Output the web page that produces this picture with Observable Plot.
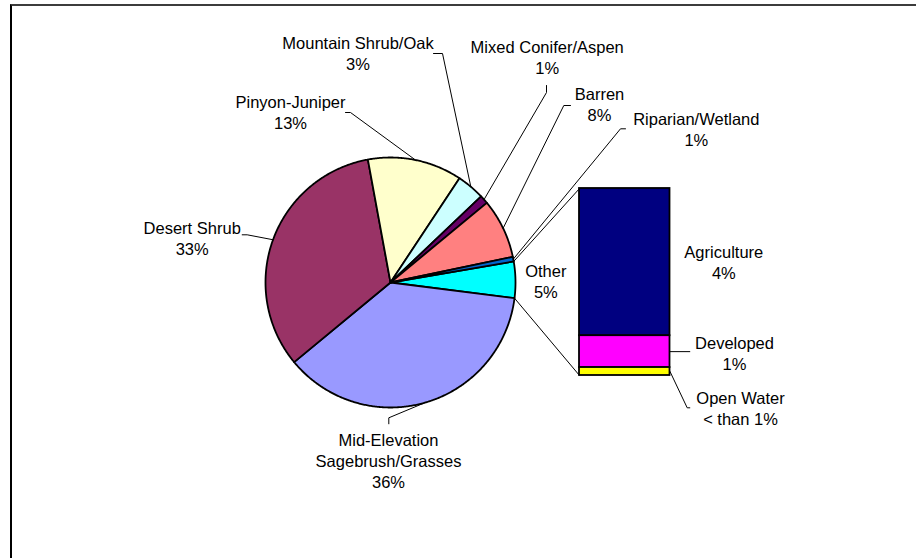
<!DOCTYPE html>
<html><head><meta charset="utf-8">
<script src="https://cdn.jsdelivr.net/npm/d3@7"></script>
<script src="https://cdn.jsdelivr.net/npm/@observablehq/plot@0.6"></script>
<style>
html,body{margin:0;padding:0;background:#fff;}
#wrap{position:relative;width:916px;height:558px;overflow:hidden;}
#frame{position:absolute;left:10px;top:4px;right:-10px;bottom:-10px;border-top:2px solid #3c3c3c;border-left:2px solid #000;pointer-events:none;}
svg{display:block;}
</style></head><body><div id="wrap"><div id="frame"></div></div>
<script>
// ---- data ----
const pieCategories = ["Other", "Mid-Elevation Sagebrush/Grasses", "Desert Shrub", "Pinyon-Juniper", "Mountain Shrub/Oak", "Mixed Conifer/Aspen", "Barren", "Riparian/Wetland"];
const pieValues = [4.7, 37.0, 33.1, 12.2, 3.6, 1.1, 7.7, 0.6];
const pieLabelNames = ["Other", "Mid-Elevation\nSagebrush/Grasses", "Desert Shrub", "Pinyon-Juniper", "Mountain Shrub/Oak", "Mixed Conifer/Aspen", "Barren", "Riparian/Wetland"];
const piePercentLabels = ["5%", "36%", "33%", "13%", "3%", "1%", "8%", "1%"];
const pieColors = ["#00FFFF", "#9999FF", "#993366", "#FFFFCC", "#CCFFFF", "#660066", "#FF8080", "#0066CC"];

const barCategories = ["Agriculture", "Developed", "Open Water"];
const barValues = [3.7, 0.8, 0.2];
const barPercentLabels = ["4%", "1%", "< than 1%"];
const barColors = ["#000080", "#FF00FF", "#FFFF00"];

// ---- layout ----
const W = 916, H = 558;
const cx = 390, cy = 282, R = 125, startDeg = 80.3;
const bar = {x0: 579, x1: 669.5, yTop: 188, yBot: 375};
const FS = 16.5, LS = 21;
const FONT = "'Liberation Sans', Arial, Helvetica, sans-serif";

// label placements (pixels): text center x, first baseline y, leader elbow points
const pieLabelLayout = {
  "Other": {tx: 545.3, ty: 276.7, path: null},
  "Mid-Elevation Sagebrush/Grasses": {tx: 388, ty: 445, path: [[388.3, 417.3], [388.3, 423.3]]},
  "Desert Shrub": {tx: 191.7, ty: 233, path: [[246.7, 234.3], [241.7, 234.3]]},
  "Pinyon-Juniper": {tx: 290, ty: 107.3, path: [[350, 112], [345, 112]]},
  "Mountain Shrub/Oak": {tx: 357.5, ty: 48, path: [[442, 53], [433, 53]]},
  "Mixed Conifer/Aspen": {tx: 546.7, ty: 52.5, path: [[546, 92], [546, 85]]},
  "Barren": {tx: 599, ty: 99, path: [[563.3, 105], [570, 105]]},
  "Riparian/Wetland": {tx: 695.8, ty: 124, path: [[620, 128.3], [625, 128.3]]}
};
const barLabelLayout = {
  "Agriculture": {tx: 723.3, ty: 257.3, path: null},
  "Developed": {tx: 734, ty: 348.3, path: [[689.3, null]]},
  "Open Water": {tx: 740, ty: 403.3, path: [[686.7, 407.3], [689.3, 407.3]]}
};

// ---- geometry from data ----
const rad = d => d * Math.PI / 180;
const arcPt = (deg, r = R) => [cx + r * Math.sin(rad(deg)), cy - r * Math.cos(rad(deg))];
const total = d3.sum(pieValues);
let acc = startDeg;
const slices = pieCategories.map((cat, i) => {
  const a0 = acc, a1 = acc + pieValues[i] / total * 360;
  acc = a1;
  return {cat, a0, a1, mid: (a0 + a1) / 2, i};
});
const sliceRows = [];
for (const s of slices) {
  sliceRows.push({cat: s.cat, x: cx, y: cy});
  const n = Math.max(2, Math.ceil((s.a1 - s.a0) / 0.5));
  for (let k = 0; k <= n; ++k) {
    const [x, y] = arcPt(s.a0 + (s.a1 - s.a0) * k / n);
    sliceRows.push({cat: s.cat, x, y});
  }
  sliceRows.push({cat: s.cat, x: cx, y: cy});
}

const barTotal = d3.sum(barValues);
let by = bar.yTop;
const barRows = barCategories.map((cat, i) => {
  const h = barValues[i] / barTotal * (bar.yBot - bar.yTop);
  const r = {cat, x1: bar.x0, x2: bar.x1, y1: by, y2: by + h};
  by += h;
  return r;
});

const other = slices[0];
const links = [
  {p: arcPt(other.a0), q: [bar.x0, bar.yTop]},
  {p: arcPt(other.a1), q: [bar.x0, bar.yBot]}
];

const leaderRows = [];
const textRows = [];
slices.forEach(s => {
  const L = pieLabelLayout[s.cat];
  if (L.path) {
    const [x0, y0] = arcPt(s.mid);
    leaderRows.push({id: s.cat, x: x0, y: y0});
    for (const [x, y] of L.path) leaderRows.push({id: s.cat, x, y});
  }
  const lines = (pieLabelNames[s.i] + "\n" + piePercentLabels[s.i]).split("\n");
  lines.forEach((t, j) => textRows.push({t, x: L.tx, y: L.ty + j * LS}));
});
barRows.forEach((b, i) => {
  const L = barLabelLayout[b.cat];
  if (L.path) {
    const ym = (b.y1 + b.y2) / 2;
    leaderRows.push({id: b.cat, x: b.x2, y: ym});
    for (const [x, y] of L.path) leaderRows.push({id: b.cat, x, y: y == null ? ym : y});
  }
  [barCategories[i], barPercentLabels[i]].forEach((t, j) => textRows.push({t, x: L.tx, y: L.ty + j * LS}));
});

const chart = Plot.plot({
  width: W, height: H, margin: 0,
  x: {domain: [0, W], range: [0, W], axis: null},
  y: {domain: [0, H], range: [0, H], axis: null},
  color: {domain: [...pieCategories, ...barCategories], range: [...pieColors, ...barColors]},
  style: {background: "transparent", overflow: "visible"},
  marks: [
    Plot.line(sliceRows, {x: "x", y: "y", z: "cat", fill: "cat", stroke: "#000", strokeWidth: 1.8, strokeLinejoin: "round", curve: "linear"}),
    Plot.rect(barRows, {x1: "x1", x2: "x2", y1: "y1", y2: "y2", fill: "cat", stroke: "#000", strokeWidth: 1.8}),
    Plot.link(links, {x1: d => d.p[0], y1: d => d.p[1], x2: d => d.q[0], y2: d => d.q[1], stroke: "#000", strokeWidth: 1}),
    Plot.line(leaderRows, {x: "x", y: "y", z: "id", stroke: "#000", strokeWidth: 1, curve: "linear"}),
    Plot.text(textRows, {x: "x", y: "y", text: "t", fontSize: FS, fontFamily: FONT, fill: "#000", textAnchor: "middle", lineAnchor: "bottom"})
  ]
});
document.getElementById("wrap").insertBefore(chart, document.getElementById("frame"));
</script>
</body></html>
